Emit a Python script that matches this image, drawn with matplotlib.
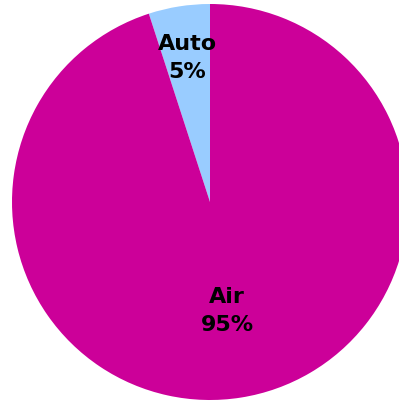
import numpy as np
import matplotlib
matplotlib.use('Agg')
import matplotlib.pyplot as plt

labels = ['Auto', 'Air']
shares = [5, 95]
colors = ['#99CCFF', '#CC0099']
# how far from the centre each label sits, as a fraction of the radius
label_dist = [0.74, 0.55]

fig = plt.figure(figsize=(3.99, 4.02), dpi=100)
ax = fig.add_axes([12 / 399, 1 / 402, 396 / 399, 396 / 402])

wedges, _ = ax.pie(shares, colors=colors, startangle=90, counterclock=True,
                   radius=1.0, wedgeprops=dict(linewidth=0))
ax.set_xlim(-1, 1)
ax.set_ylim(-1, 1)
ax.set_aspect('equal')
ax.axis('off')

for w, name, val, d in zip(wedges, labels, shares, label_dist):
    mid = np.deg2rad((w.theta1 + w.theta2) / 2)
    ax.text(d * np.cos(mid), d * np.sin(mid), '{}\n{}%'.format(name, val),
            ha='center', va='center', fontsize=16, fontweight='bold',
            family='DejaVu Sans', linespacing=1.5, color='black')

fig.savefig('out.png', dpi=100)
